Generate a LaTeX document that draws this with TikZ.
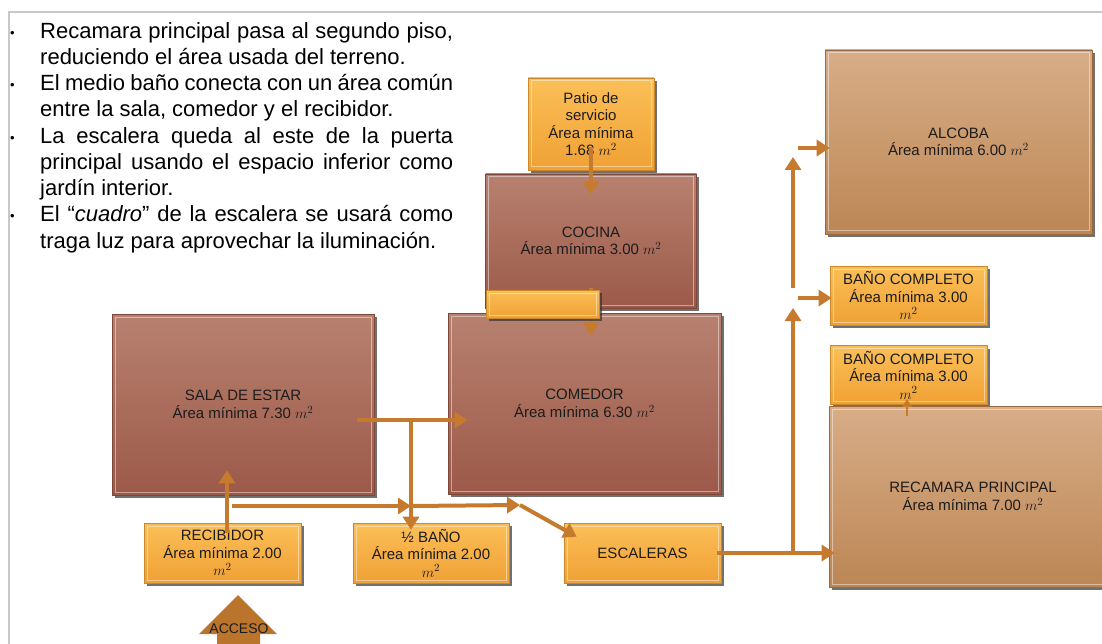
\documentclass[tikz,border=0pt]{standalone}
\usepackage{amsmath}
\usepackage{fontspec}
\setmainfont{Liberation Sans}
\usetikzlibrary{positioning,arrows.meta,shadows,calc}

\definecolor{flechac}{RGB}{197,122,46}
\definecolor{cafearriba}{RGB}{184,129,111}
\definecolor{cafeabajo}{RGB}{156,89,73}
\definecolor{tanarriba}{RGB}{216,173,136}
\definecolor{tanabajo}{RGB}{188,134,84}
\definecolor{narriba}{RGB}{251,191,88}
\definecolor{nabajo}{RGB}{240,161,52}
\definecolor{marcogris}{RGB}{200,200,200}
\definecolor{letra}{RGB}{28,28,28}

\tikzset{
  caja/.style={rectangle, inner sep=2pt, align=center, text=letra,
    font=\fontsize{15}{17.5}\selectfont, line width=.6pt,
    drop shadow={shadow xshift=2.5pt, shadow yshift=-3pt, opacity=.7, fill=black!80},
    path picture={\draw[white, opacity=.45, line width=1pt]
      ([shift={(3pt,-3pt)}]path picture bounding box.north west) rectangle
      ([shift={(-3pt,3pt)}]path picture bounding box.south east);}},
  cuarto/.style={caja, top color=cafearriba, bottom color=cafeabajo, draw=cafeabajo!80!black},
  alto/.style={caja, top color=tanarriba, bottom color=tanabajo, draw=tanabajo!80!black},
  naranja/.style={caja, top color=narriba, bottom color=nabajo, draw=nabajo!85!black},
  flecha/.style={draw=flechac, line width=4pt, -{Triangle[width=16pt,length=13pt]}},
  flechita/.style={draw=flechac, line width=2pt, -{Triangle[width=9pt,length=8pt]}}
}

\begin{document}
\begin{tikzpicture}[x=1pt,y=-1pt]
  \useasboundingbox (0,0) rectangle (1102,644);
  \clip (0,0) rectangle (1102,644);
  % marco de la lamina
  \draw[marcogris, line width=1.5pt] (9,650) -- (9,12) -- (1110,12);

  % notas
  \node[anchor=north west, text width=443pt, inner sep=0pt, align=justify,
        font=\fontsize{22}{26.25}\selectfont] (notas) at (10,22) {\parindent=0pt
    \hangindent=30pt\hangafter=1\makebox[30pt][l]{\raisebox{1pt}{\fontsize{13}{13}\selectfont\textbullet}}Recamara principal pasa al segundo piso,\linebreak reduciendo el área usada del terreno.\par
    \hangindent=30pt\hangafter=1\makebox[30pt][l]{\raisebox{1pt}{\fontsize{13}{13}\selectfont\textbullet}}El medio baño conecta con un área común\linebreak entre la sala, comedor y el recibidor.\par
    \hangindent=30pt\hangafter=1\makebox[30pt][l]{\raisebox{1pt}{\fontsize{13}{13}\selectfont\textbullet}}La escalera queda al este de la puerta\linebreak principal usando el espacio inferior como\linebreak jardín interior.\par
    \hangindent=30pt\hangafter=1\makebox[30pt][l]{\raisebox{1pt}{\fontsize{13}{13}\selectfont\textbullet}}El “\textit{cuadro}” de la escalera se usará como\linebreak traga luz para aprovechar la iluminación.\par};

  % planta baja
  \node[naranja, minimum width=126pt, minimum height=92pt] (patio) at (591,124)
    {Patio de\\servicio\\Área mínima\\1.68 $m^2$};
  \node[cuarto, minimum width=211pt, minimum height=134pt] (cocina) at (591,241)
    {COCINA\\Área mínima 3.00 $m^2$};
  \node[cuarto, minimum width=273pt, minimum height=181pt] (comedor) at (584.5,403.5)
    {COMEDOR\\Área mínima 6.30 $m^2$};
  \node[cuarto, minimum width=262pt, minimum height=181pt] (sala) at (243,404.5)
    {SALA DE ESTAR\\Área mínima 7.30 $m^2$};
  \node[naranja, minimum width=157pt, minimum height=60pt] (recibidor) at (222.5,553)
    {RECIBIDOR\\Área mínima 2.00\\$m^2$};
  \node[naranja, minimum width=156pt, minimum height=60pt] (mediobano) at (431,553)
    {½ BAÑO\\Área mínima 2.00\\$m^2$};
  \node[naranja, minimum width=157pt, minimum height=60pt] (escaleras) at (642.5,553)
    {ESCALERAS};

  % planta alta
  \node[alto, minimum width=267pt, minimum height=184pt] (alcoba) at (958.5,142)
    {ALCOBA\\Área mínima 6.00 $m^2$};
  \node[naranja, minimum width=157pt, minimum height=59pt] (bano1) at (908.5,295.5)
    {BAÑO COMPLETO\\Área mínima 3.00\\$m^2$};
  \node[naranja, minimum width=157pt, minimum height=59pt, below=20pt of bano1] (bano2)
    {BAÑO COMPLETO\\Área mínima 3.00\\$m^2$};
  \node[alto, minimum width=288pt, minimum height=181pt] (recamara) at (973,496.5)
    {RECAMARA PRINCIPAL\\Área mínima 7.00 $m^2$};

  % circulaciones
  \coordinate (cruce) at (411,420);
  \coordinate (pasillo) at (232,506);
  \coordinate (bifurca) at (411,506);
  \coordinate (giro) at (520,505);
  \coordinate (subida) at (793,553);
  \coordinate (nudo) at (793,298);
  \coordinate (nudo2) at (793,148);

  \draw[flecha] ([yshift=23pt]patio.south) -- ([yshift=-21pt]patio.south |- cocina.north);
  \draw[flecha] ([yshift=20pt]cocina.south) -- ([yshift=-23pt]cocina.south |- comedor.north);
  \draw[flecha] ([xshift=-17pt]sala.east |- cruce) -- ([xshift=20pt]comedor.west |- cruce);
  \draw[flecha] (cruce) -- ([yshift=-7pt]cruce |- mediobano.north);
  \draw[flecha] ([xshift=4.5pt,yshift=-10pt]recibidor.north)
    -- ([xshift=4.5pt,yshift=25pt]recibidor.north |- sala.south);
  \draw[flecha] (pasillo) -- (bifurca);
  \draw[flecha] (bifurca) -- (giro);
  \draw[flecha] (giro) -- ([xshift=13pt,yshift=-14pt]escaleras.north west);
  \draw[flecha] ([xshift=-4pt]escaleras.east) -- ([xshift=6pt]recamara.west |- escaleras.east);
  \draw[flecha] (subida) -- ([yshift=-10pt]nudo);
  \draw[flecha] ([yshift=10pt]nudo) -- ([yshift=-9pt]nudo2);
  \draw[flecha] ([xshift=5pt]nudo) -- ([xshift=2pt]bano1.west |- nudo);
  \draw[flecha] ([xshift=5pt]nudo2) -- ([xshift=5pt]alcoba.west |- nudo2);
  \draw[flechita] ([xshift=-1.5pt,yshift=-10pt]bano2.south |- recamara.north)
    -- ([xshift=-1.5pt,yshift=6pt]bano2.south);

  % tapa sobre la flecha cocina-comedor
  \node[naranja, minimum width=113pt, minimum height=28pt] (tapa) at (542.5,304) {};

  % acceso
  \fill[flechac!95!black] (217,650) -- (217,634) -- (199,634) -- (238,595)
    -- (277,634) -- (260,634) -- (260,650) -- cycle;
  \node[font=\fontsize{14}{14}\selectfont, text=letra, inner sep=0pt] (acceso) at (239,629) {ACCESO};
\end{tikzpicture}
\end{document}
